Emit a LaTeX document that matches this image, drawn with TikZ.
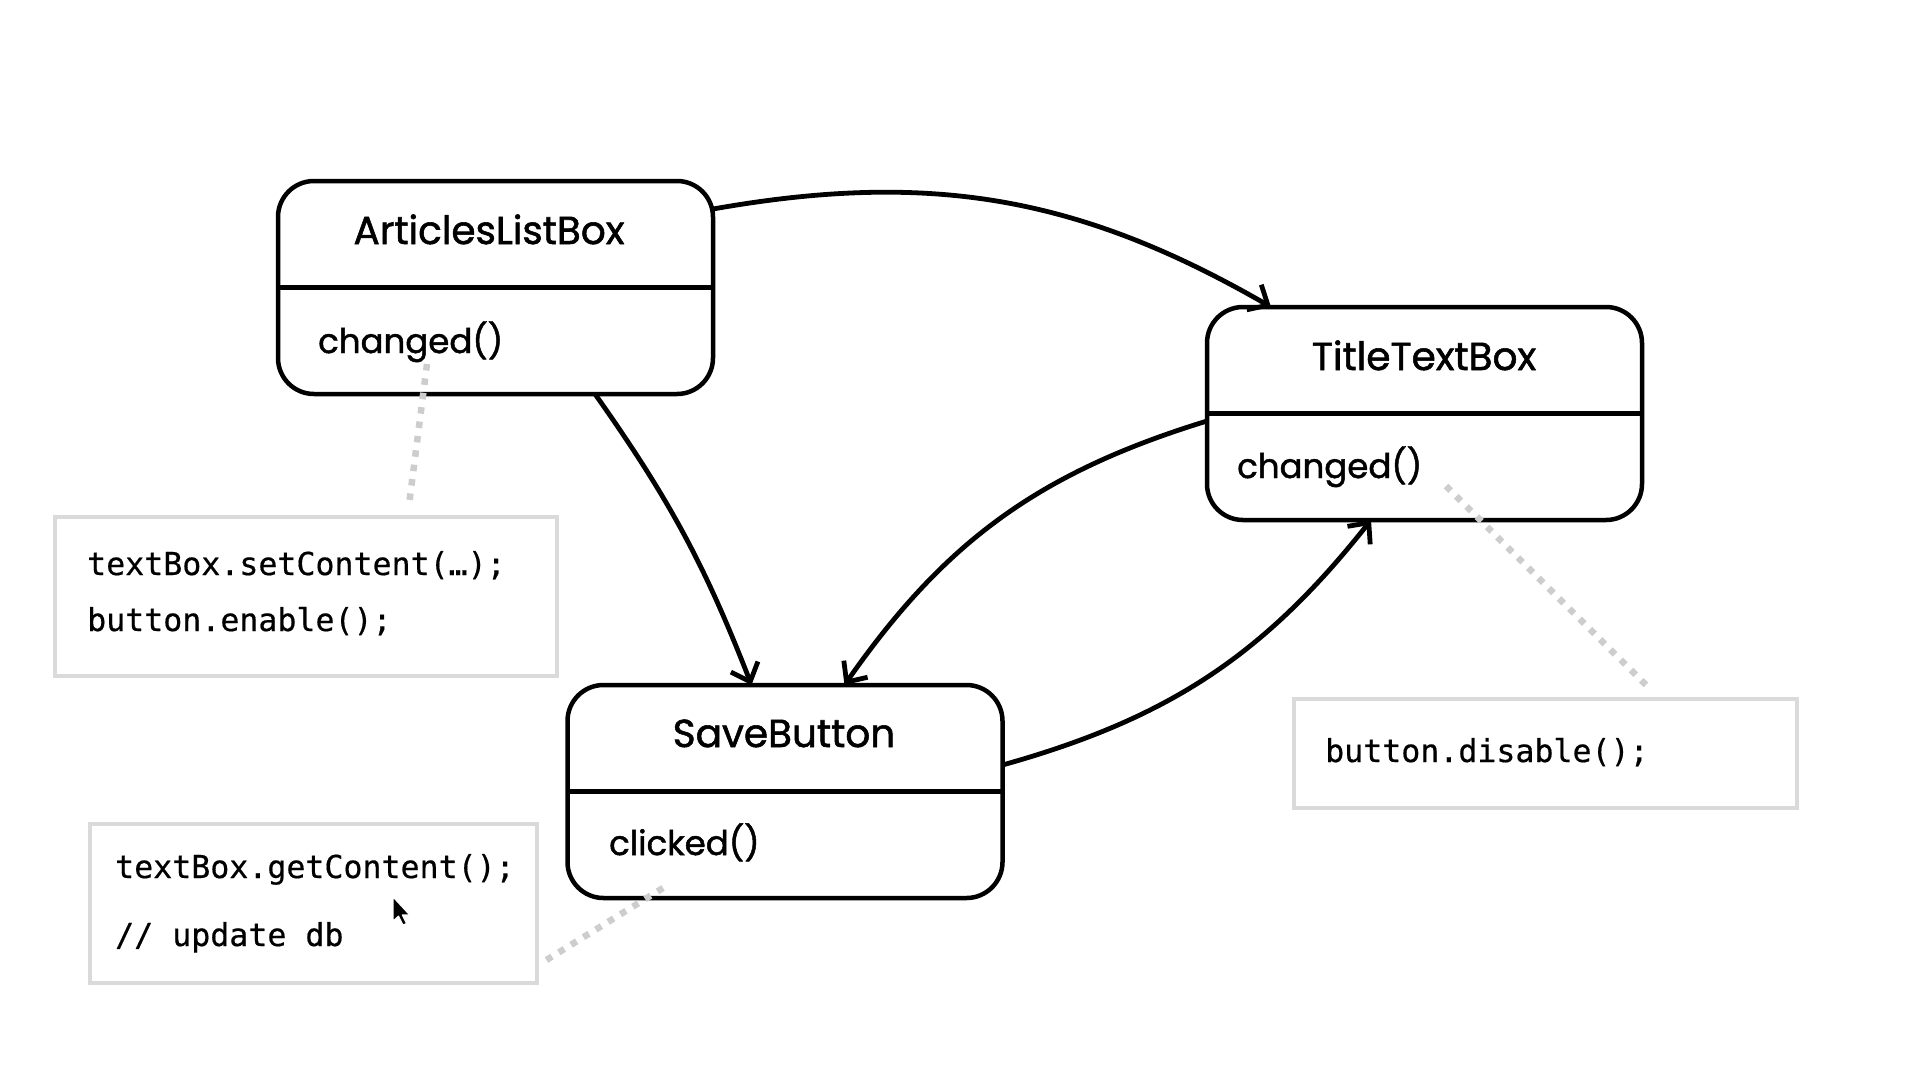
\documentclass[tikz,border=0pt]{standalone}
\usepackage{fontspec}
\setmainfont{Poppins}
\newfontfamily\boxfont{Poppins}[FakeBold=1.4]
\newfontfamily\codefont{DejaVu Sans Mono}[FakeBold=0.5]
\usetikzlibrary{arrows.meta,calc}
\definecolor{notegray}{RGB}{218,218,218}
\definecolor{dotgray}{RGB}{205,205,205}
\begin{document}
\begin{tikzpicture}[x=1pt,y=-1pt,
  umlbox/.style={draw=black, line width=4.5pt, rounded corners=36pt,
    minimum width=435pt, minimum height=213pt, inner sep=0pt, outer sep=0pt},
  divider/.style={line width=4.5pt},
  titletext/.style={anchor=base, inner sep=0pt, font=\boxfont\fontsize{39}{46}\selectfont},
  methodtext/.style={anchor=base west, inner sep=0pt, font=\boxfont\fontsize{34}{40}\selectfont},
  notebox/.style={draw=notegray, line width=3.5pt, inner sep=0pt, outer sep=0pt},
  codetext/.style={anchor=base west, inner sep=0pt, font=\codefont\fontsize{31.6}{38}\selectfont},
  flow/.style={line width=4.8pt, -{Straight Barb[length=16pt,width=29pt]}},
  dotlink/.style={draw=dotgray, line width=6.5pt, dash pattern=on 6.5pt off 8pt}
]
\fill[white] (0,0) rectangle (1920,1080);
\useasboundingbox (0,0) rectangle (1920,1080);

% class boxes
\node[umlbox] (alb) at (495.5,287.5) {};
\draw[divider] (alb.west) -- (alb.east);
\node[titletext] (albt) at (489,244) {ArticlesListBox};
\node[methodtext] (albm) at (318,353) {changed()};

\node[umlbox] (ttb) at (1424.5,413.5) {};
\draw[divider] (ttb.west) -- (ttb.east);
\node[titletext] (ttbt) at (1424,370) {TitleTextBox};
\node[methodtext] (ttbm) at (1237,478) {changed()};

\node[umlbox] (sb) at (785,791.5) {};
\draw[divider] (sb.west) -- (sb.east);
\node[titletext] (sbt) at (784,747) {SaveButton};
\node[methodtext] (sbm) at (609,855) {clicked()};

% notes
\node[notebox, minimum width=502pt, minimum height=159pt] (n1) at (306,596.5) {};
\node[codetext] (n1a) at (87,575) {textBox.setContent(…);};
\node[codetext] (n1b) at (87,631) {button.enable();};

\node[notebox, minimum width=447pt, minimum height=159pt] (n2) at (313.5,903.5) {};
\node[codetext] (n2a) at (115,878) {textBox.getContent();};
\node[codetext] (n2b) at (115,946) {// update db};

\node[notebox, minimum width=503pt, minimum height=109pt] (n3) at (1545.5,753.5) {};
\node[codetext] (n3a) at (1325,762) {button.disable();};

% dotted note links
\coordinate (d1s) at (427,364);
\coordinate (d1e) at (409,505);
\draw[dotlink] (d1s) -- (d1e);
\coordinate (d2s) at (663,888);
\coordinate (d2e) at (540,964);
\draw[dotlink] (d2s) -- (d2e);
\coordinate (d3s) at (1446,486);
\coordinate (d3e) at (1649,688);
\draw[dotlink] (d3s) -- (d3e);

% flows
\draw[flow] ($(alb.north east)+(0,28)$) to[bend left=20] ($(ttb.north west)+(64,0)$);
\draw[flow] ($(alb.south west)+(317,0)$) to[bend left=7] ($(sb.north west)+(184,0)$);
\draw[flow] ($(ttb.west)+(0,7.5)$) to[bend right=19] ($(sb.north west)+(277,0)$);
\draw[flow] ($(sb.east)+(0,-26.5)$) to[bend right=18] ($(ttb.south west)+(164,0)$);

% mouse pointer
\coordinate (cur) at (393,897);
\filldraw[fill=black, draw=white, line width=1pt, line join=round]
  (cur) -- ++(0,24) -- ++(5.5,-5) -- ++(4.5,9) -- ++(3.5,-1.6) -- ++(-4.3,-8.6) -- ++(7.3,0) -- cycle;
\end{tikzpicture}
\end{document}
